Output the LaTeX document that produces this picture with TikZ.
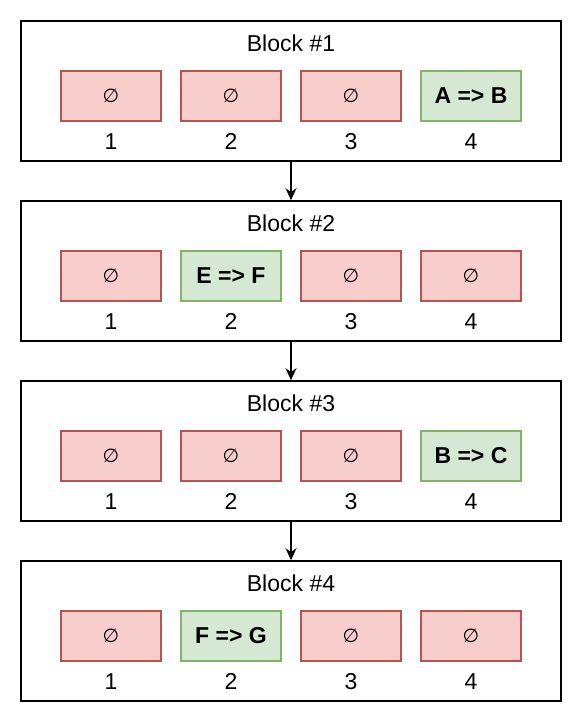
\documentclass[tikz,border=0pt]{standalone}
\usepackage{fontspec}
\setmainfont{Liberation Sans}
\newfontfamily\emptyfont{DejaVu Sans}
\usepackage{tikz}
\usetikzlibrary{positioning, arrows, arrows.meta}
\definecolor{redfill}{HTML}{F8CECC}
\definecolor{redline}{HTML}{B85450}
\definecolor{greenfill}{HTML}{D5E8D4}
\definecolor{greenline}{HTML}{82B366}
\tikzset{>={Stealth[length=12pt, width=11pt]}, x=1pt, y=1pt,
block/.style={draw, line width=1.6pt, minimum width=540pt, minimum height=140pt},
nonecell/.style={draw=redline, fill=redfill, line width=1.2pt, minimum width=100pt, minimum height=50pt, inner sep=0pt, font=\emptyfont\fontsize{19}{19}\selectfont},
rulecell/.style={draw=greenline, fill=greenfill, line width=1.2pt, minimum width=100pt, minimum height=50pt, inner sep=0pt, font=\bfseries\fontsize{23}{23}\selectfont},
title/.style={font=\fontsize{23}{23}\selectfont},
num/.style={inner sep=0pt, font=\fontsize{23}{23}\selectfont},
}

\begin{document}
\begin{tikzpicture}
	\useasboundingbox (0,0) rectangle (582,-722);
	\foreach \b/\g/\r in {1/4/A => B, 2/2/E => F, 3/4/B => C, 4/2/F => G}{
		\pgfmathsetmacro\yb{-91-180*(\b-1)}
		\node[block] (b\b) at (291,\yb) {};
		\node[title] (t\b) at (291,\yb+48) {Block \#\b};
		\foreach \c in {1,...,4}{
			\ifnum\c=\g
				\node[rulecell] (c\b\c) at (-9+120*\c,\yb-5) {\r};
			\else
				\node[nonecell] (c\b\c) at (-9+120*\c,\yb-5) {∅};
			\fi
			\node[num, below=12pt of c\b\c] (n\b\c) {\c};
		}
	}
	\foreach \b [evaluate=\b as \n using int(\b+1)] in {1,2,3}
		\draw[->, line width=1.6pt] (b\b) -- (b\n);
\end{tikzpicture}
\end{document}
